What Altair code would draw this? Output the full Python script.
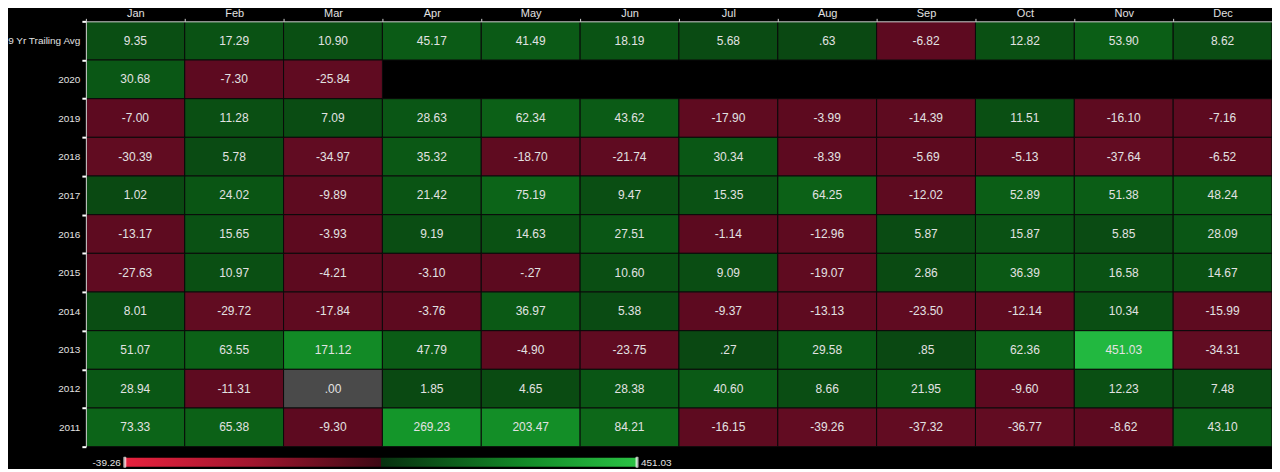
import altair as alt
import pandas as pd

months = ["Jan", "Feb", "Mar", "Apr", "May", "Jun", "Jul", "Aug", "Sep", "Oct", "Nov", "Dec"]
row_labels = ["9 Yr Trailing Avg", "2020", "2019", "2018", "2017", "2016", "2015",
              "2014", "2013", "2012", "2011"]

avg9 = [9.35, 17.29, 10.90, 45.17, 41.49, 18.19, 5.68, 0.63, -6.82, 12.82, 53.90, 8.62]
y2020 = [30.68, -7.30, -25.84]
y2019 = [-7.00, 11.28, 7.09, 28.63, 62.34, 43.62, -17.90, -3.99, -14.39, 11.51, -16.10, -7.16]
y2018 = [-30.39, 5.78, -34.97, 35.32, -18.70, -21.74, 30.34, -8.39, -5.69, -5.13, -37.64, -6.52]
y2017 = [1.02, 24.02, -9.89, 21.42, 75.19, 9.47, 15.35, 64.25, -12.02, 52.89, 51.38, 48.24]
y2016 = [-13.17, 15.65, -3.93, 9.19, 14.63, 27.51, -1.14, -12.96, 5.87, 15.87, 5.85, 28.09]
y2015 = [-27.63, 10.97, -4.21, -3.10, -0.27, 10.60, 9.09, -19.07, 2.86, 36.39, 16.58, 14.67]
y2014 = [8.01, -29.72, -17.84, -3.76, 36.97, 5.38, -9.37, -13.13, -23.50, -12.14, 10.34, -15.99]
y2013 = [51.07, 63.55, 171.12, 47.79, -4.90, -23.75, 0.27, 29.58, 0.85, 62.36, 451.03, -34.31]
y2012 = [28.94, -11.31, 0.00, 1.85, 4.65, 28.38, 40.60, 8.66, 21.95, -9.60, 12.23, 7.48]
y2011 = [73.33, 65.38, -9.30, 269.23, 203.47, 84.21, -16.15, -39.26, -37.32, -36.77, -8.62, 43.10]

row_values = [avg9, y2020, y2019, y2018, y2017, y2016, y2015, y2014, y2013, y2012, y2011]


def fmt(v):
    s = f"{v:.2f}"
    if s.startswith("0."):
        s = s[1:]
    elif s.startswith("-0."):
        s = "-" + s[2:]
    return s


records = []
for lab, vals in zip(row_labels, row_values):
    for m, v in zip(months, vals):
        records.append({"month": m, "row": lab, "value": v, "label": fmt(v)})
df = pd.DataFrame(records)

lo = float(df["value"].min())
hi = float(df["value"].max())
bar_df = pd.DataFrame({"lo": [lo], "hi": [hi], "lo_label": [fmt(lo)], "hi_label": [fmt(hi)]})

FONT = "Liberation Sans"
TXT = "#e2e2e2"

color_scale = alt.Scale(
    domain=[-39.26, -0.01, 0, 0.01, 20, 75, 170, 270, 451.03],
    range=["#620c22", "#5c0a1f", "#4a4a4a", "#0a4812", "#0a5414", "#0c6418",
           "#128a26", "#14962a", "#22b840"],
)

xband = alt.Scale(paddingInner=0, paddingOuter=0)
yband = alt.Scale(paddingInner=0, paddingOuter=0)

x_axis = alt.Axis(orient="top", title=None, labelAngle=0, labelColor=TXT,
                  labelFont=FONT, labelFontSize=11, domainColor="#cfcfcf",
                  tickColor="#cfcfcf", tickSize=3, tickBand="extent",
                  labelPadding=0)
y_axis = alt.Axis(title=None, labelColor=TXT, labelFont=FONT, labelFontSize=10,
                  domainColor="#cfcfcf", tickColor="#ffffff", tickSize=4,
                  tickWidth=2, tickBand="extent", labelPadding=2)

X = alt.X("month:N", sort=months, scale=xband, axis=x_axis)
Y = alt.Y("row:N", sort=row_labels, scale=yband, axis=y_axis)

base = alt.Chart(df).encode(x=X, y=Y)

cells = base.mark_rect(stroke="#0a0a0a", strokeWidth=1).encode(
    color=alt.Color("value:Q", scale=color_scale, legend=None),
)
texts = base.mark_text(font=FONT, fontSize=12, color=TXT).encode(text="label:N")

heat = alt.layer(cells, texts)

bx = alt.Scale(domain=[lo, hi], range=[39, 552])

grad = alt.LinearGradient(
    gradient="linear",
    stops=[
        alt.GradientStop(color="#e8223e", offset=0),
        alt.GradientStop(color="#a0162e", offset=0.25),
        alt.GradientStop(color="#3e0814", offset=0.5),
        alt.GradientStop(color="#08300f", offset=0.5),
        alt.GradientStop(color="#138a27", offset=0.78),
        alt.GradientStop(color="#2ac244", offset=1),
    ],
    x1=0, x2=1, y1=0, y2=0,
)

BAR_TOP = 437
bar = alt.Chart(bar_df).mark_rect(color=grad).encode(
    x=alt.X("lo:Q", scale=bx, axis=None),
    x2="hi:Q",
    y=alt.value(BAR_TOP),
    y2=alt.value(BAR_TOP + 9),
)
handle_lo = alt.Chart(bar_df).mark_tick(color="#ffffff", thickness=3, size=11, cornerRadius=1).encode(
    x=alt.X("lo:Q", scale=bx, axis=None), y=alt.value(BAR_TOP + 4.5))
handle_hi = alt.Chart(bar_df).mark_tick(color="#ffffff", thickness=3, size=11, cornerRadius=1).encode(
    x=alt.X("hi:Q", scale=bx, axis=None), y=alt.value(BAR_TOP + 4.5))
lab_lo = alt.Chart(bar_df).mark_text(align="right", dx=-4, font=FONT, fontSize=10, color=TXT).encode(
    x=alt.X("lo:Q", scale=bx, axis=None), y=alt.value(BAR_TOP + 5), text="lo_label:N")
lab_hi = alt.Chart(bar_df).mark_text(align="left", dx=4, font=FONT, fontSize=10, color=TXT).encode(
    x=alt.X("hi:Q", scale=bx, axis=None), y=alt.value(BAR_TOP + 5), text="hi_label:N")

colorbar = alt.layer(bar, handle_lo, handle_hi, lab_lo, lab_hi)

chart = alt.layer(heat, colorbar).resolve_scale(x="independent").properties(
    width=1188,
    height=426,
    autosize=alt.AutoSizeParams(type="none"),
    padding={"left": 78, "top": 13, "right": 0, "bottom": 22},
    background="#000000",
).configure_view(stroke=None)

chart.save("out.html", embed_options={"renderer": "svg", "actions": False})
